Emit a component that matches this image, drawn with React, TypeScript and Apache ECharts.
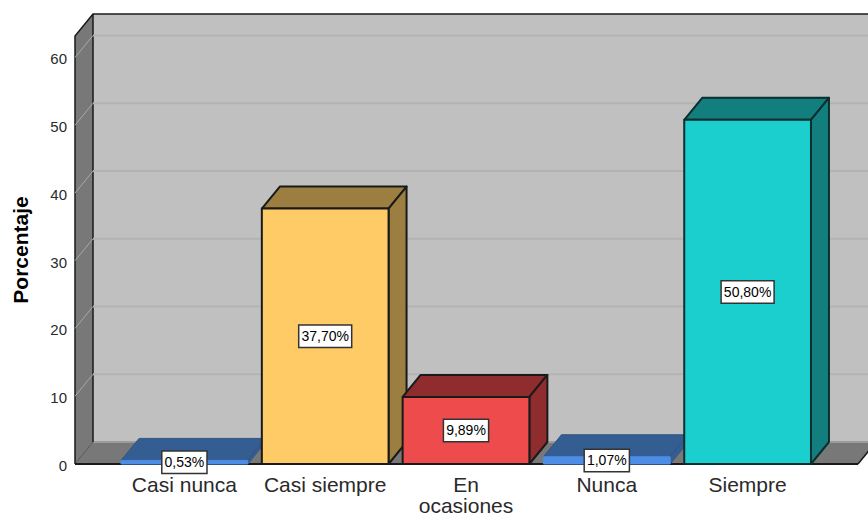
import React, { useEffect, useRef } from "react";
import * as echarts from "echarts";

const categories = ["Casi nunca", "Casi siempre", "En ocasiones", "Nunca", "Siempre"];
const percentages = [0.53, 37.7, 9.89, 1.07, 50.8];
const valueLabels = ["0,53%", "37,70%", "9,89%", "1,07%", "50,80%"];
const frontColors = ["#4E8DE6", "#FFCB66", "#EE4B4D", "#4E8DE6", "#1CCFCF"];
const darkColors = ["#345D92", "#9C7F40", "#8F2C2E", "#345D92", "#127E7E"];
const edgeColors = ["#2F5585", "#1A1A1A", "#1A1A1A", "#2F5585", "#0C2E2E"];
const frontEdgeColors = ["#4E8DE6", "#1A1A1A", "#1A1A1A", "#4E8DE6", "#0C2E2E"];
const edgeWidths = [1, 2, 2, 1, 2];
const gridTicks = [10, 20, 30, 40, 50, 60];
const yMax = 63.17;
const FONT = '"Liberation Sans", Arial, sans-serif';
const DX = 18;
const DY = 22;
const WALL_LEFT = 39;
const FLOOR_RIGHT = 40;

export default function App() {
  const ref = useRef<HTMLDivElement>(null);
  useEffect(() => {
    document.body.style.margin = "0";
    document.body.style.overflow = "hidden";
    const chart = echarts.init(ref.current!, undefined, { renderer: "svg" });
    chart.setOption({
      animation: false,
      backgroundColor: "#ffffff",
      grid: { left: 114, top: 36, width: 704, height: 428, containLabel: false, outerBoundsMode: "none" },
      xAxis: {
        type: "category",
        data: categories,
        axisLine: { show: false },
        axisTick: { show: false },
        axisLabel: {
          interval: 0,
          margin: 10,
          color: "#2a2a2a",
          fontSize: 21,
          fontFamily: FONT,
          lineHeight: 21,
          formatter: (v: string) => v.replace("En ", "En\n"),
        },
      },
      yAxis: {
        type: "value",
        min: 0,
        max: yMax,
        interval: 10,
        offset: WALL_LEFT,
        name: "Porcentaje",
        nameLocation: "middle",
        nameGap: 44,
        nameTextStyle: { color: "#000", fontSize: 21, fontWeight: "bold", fontFamily: FONT },
        axisLine: { show: false },
        axisTick: { show: false },
        splitLine: { show: false },
        axisLabel: {
          margin: 8,
          showMaxLabel: false,
          formatter: (v: number) => `{a|${v}}`,
          rich: {
            a: { color: "#2a2a2a", fontSize: 15, fontFamily: FONT, padding: [3, 0, 0, 0] },
          },
        },
      },
      series: [
        {
          type: "custom",
          silent: true,
          z: 1,
          data: [[0, yMax]],
          renderItem: (params: any, api: any) => {
            const cs = params.coordSys;
            const l = cs.x - WALL_LEFT;
            const r = cs.x + cs.width + FLOOR_RIGHT;
            const t = cs.y;
            const b = cs.y + cs.height;
            return {
              type: "group",
              children: [
                { type: "polygon", shape: { points: [[l + DX, t - DY], [r + DX, t - DY], [r + DX, b - DY], [l + DX, b - DY]] }, style: { fill: "#C0C0C0" } },
                { type: "polygon", shape: { points: [[l, t], [l + DX, t - DY], [l + DX, b - DY], [l, b]] }, style: { fill: "#787878" } },
                { type: "polygon", shape: { points: [[l, b], [l + DX, b - DY], [r + DX, b - DY], [r, b]] }, style: { fill: "#787878" } },
                { type: "line", shape: { x1: l + DX, y1: b - DY, x2: r + DX, y2: b - DY }, style: { stroke: "#9C9C9C", lineWidth: 2 } },
                { type: "polyline", shape: { points: [[l, b], [l, t], [l + DX, t - DY], [r + DX, t - DY]] }, style: { stroke: "#1a1a1a", lineWidth: 1.5, fill: "none" } },
                { type: "line", shape: { x1: l + DX, y1: t - DY, x2: l + DX, y2: b - DY }, style: { stroke: "#1a1a1a", lineWidth: 1.5 } },
                { type: "line", shape: { x1: l + DX, y1: b - DY, x2: l, y2: b }, style: { stroke: "#555", lineWidth: 1 } },
                { type: "line", shape: { x1: l, y1: b, x2: r, y2: b }, style: { stroke: "#1a1a1a", lineWidth: 2 } },
                { type: "line", shape: { x1: r, y1: b, x2: r + DX, y2: b - DY }, style: { stroke: "#1a1a1a", lineWidth: 1.5 } },
              ],
            };
          },
        },
        {
          type: "custom",
          silent: true,
          z: 2,
          data: gridTicks.map((v) => [0, v]),
          renderItem: (params: any, api: any) => {
            const cs = params.coordSys;
            const l = cs.x - WALL_LEFT;
            const r = cs.x + cs.width + FLOOR_RIGHT;
            const y = api.coord([0, api.value(1)])[1];
            return {
              type: "group",
              children: [
                { type: "line", shape: { x1: l, y1: y, x2: l + DX, y2: y - DY }, style: { stroke: "#A8A8A8", lineWidth: 1 } },
                { type: "line", shape: { x1: l + DX, y1: y - DY, x2: r + DX, y2: y - DY }, style: { stroke: "#B3B3B3", lineWidth: 2 } },
              ],
            };
          },
        },
        {
          type: "custom",
          silent: true,
          z: 3,
          data: percentages.map((v, i) => [i, v]),
          renderItem: (params: any, api: any) => {
            const i = params.dataIndex;
            const [cx, yTop] = api.coord([api.value(0), api.value(1)]);
            const yBase = api.coord([api.value(0), 0])[1];
            const w = api.size([1, 0])[0] * 0.9;
            const x0 = cx - w / 2;
            const x1 = cx + w / 2;
            const edge = { stroke: edgeColors[i], lineWidth: edgeWidths[i], lineJoin: "round" };
            return {
              type: "group",
              children: [
                { type: "polygon", shape: { points: [[x0, yTop], [x0 + DX, yTop - DY], [x1 + DX, yTop - DY], [x1, yTop]] }, style: { fill: darkColors[i], ...edge } },
                { type: "polygon", shape: { points: [[x1, yTop], [x1 + DX, yTop - DY], [x1 + DX, yBase - DY], [x1, yBase]] }, style: { fill: darkColors[i], ...edge } },
                { type: "rect", shape: { x: x0, y: yTop, width: w, height: yBase - yTop }, style: { fill: frontColors[i], ...edge, stroke: frontEdgeColors[i] } },
                {
                  type: "text",
                  z2: 10,
                  style: {
                    text: valueLabels[i],
                    x: cx,
                    y: (yTop + yBase) / 2,
                    align: "center",
                    verticalAlign: "middle",
                    font: `14px ${FONT}`,
                    fill: "#000",
                    backgroundColor: "#fff",
                    borderColor: "#333",
                    borderWidth: 1.5,
                    padding: [4, 2, 3, 2],
                  },
                },
              ],
            };
          },
        },
      ],
    });
    return () => chart.dispose();
  }, []);
  return <div ref={ref} style={{ width: 868, height: 516 }} />;
}
